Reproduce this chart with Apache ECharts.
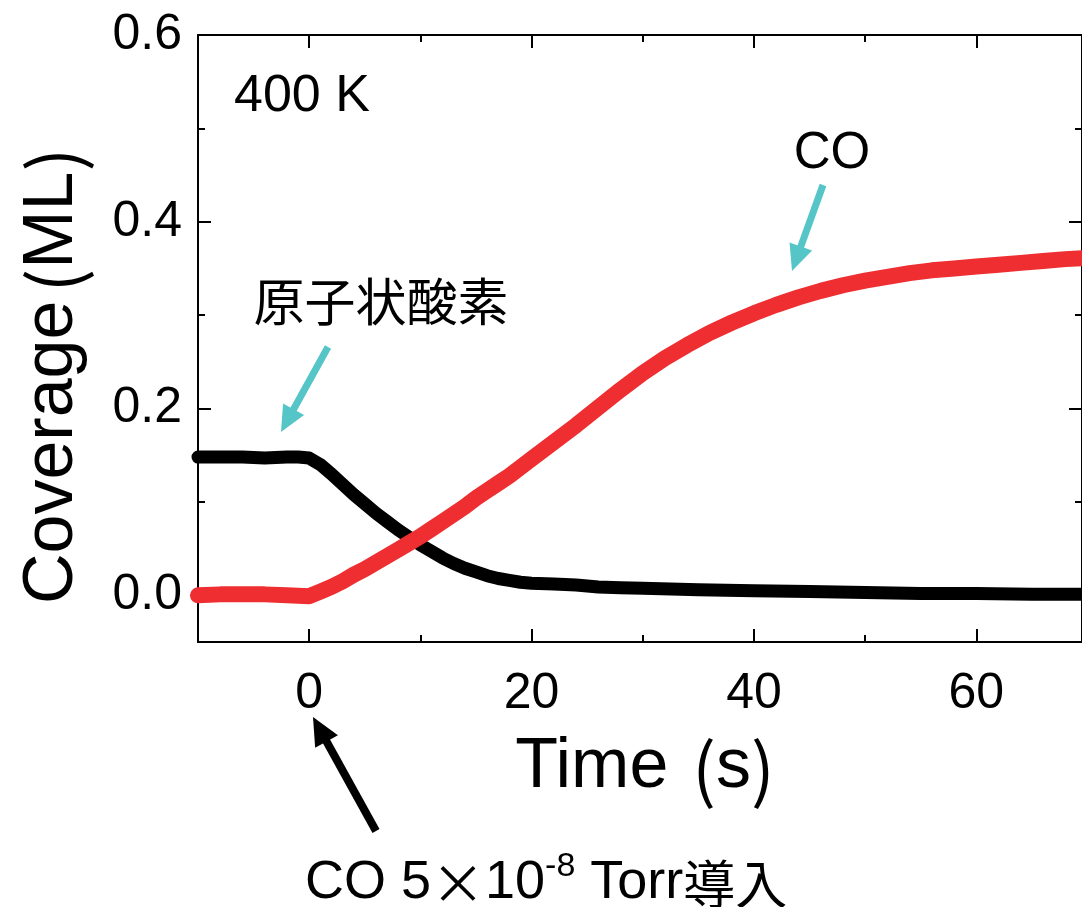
<!DOCTYPE html>
<html>
<head>
<meta charset="utf-8">
<script src="https://cdn.jsdelivr.net/npm/echarts@6/dist/echarts.min.js"></script>
<style>
html,body{margin:0;padding:0;background:#fff;}
#chart{width:1082px;height:907px;}
</style>
</head>
<body>
<div id="chart"></div>
<script>
// ---- data ----
const coTime = [-10,-8,-6,-4,-2,0,1,2,3,4,5,6,7,8,9,10,11,12,13,14,15,16,17,18,19,20,22,24,26,28,30,32,34,36,38,40,42,44,46,48,50,52,54,56,58,60,62,64,66,68,69.5];
const coCoverage = [0.000,0.001,0.001,0.001,0.000,-0.001,0.004,0.009,0.015,0.022,0.028,0.035,0.042,0.049,0.056,0.063,0.071,0.079,0.087,0.095,0.104,0.112,0.120,0.128,0.137,0.146,0.164,0.182,0.201,0.220,0.238,0.254,0.268,0.281,0.292,0.302,0.311,0.319,0.326,0.332,0.337,0.341,0.345,0.348,0.350,0.352,0.354,0.356,0.358,0.360,0.361];
const oTime = [-10,-8,-6,-4,-2,-1,0,1,2,3,4,5,6,7,8,9,10,11,12,13,14,15,16,17,18,19,20,22,24,26,28,30,35,40,45,50,55,60,65,69.5];
const oCoverage = [0.148,0.148,0.148,0.147,0.148,0.148,0.147,0.140,0.130,0.119,0.108,0.098,0.088,0.079,0.070,0.062,0.054,0.047,0.040,0.034,0.029,0.025,0.021,0.018,0.016,0.014,0.013,0.012,0.011,0.009,0.008,0.0075,0.006,0.005,0.004,0.003,0.002,0.002,0.001,0.001];
const xMajorTicks = [0, 20, 40, 60];
const xMinorTicks = [10, 30, 50];
const yMajorTicks = [0, 0.2, 0.4, 0.6];
const yMinorTicks = [0.1, 0.3, 0.5];
const xRange = [-10, 69.5];
const yRange = [-0.05, 0.6];

const LATIN = "'Liberation Sans', Arial, 'Noto Sans CJK JP', sans-serif";
const CJK = "'Noto Sans CJK JP', 'Noto Sans CJK SC', sans-serif";

const chart = echarts.init(document.getElementById('chart'), null, {renderer: 'canvas'});

function axisX(pos, ticks, len, showLine, showLabel) {
  return {
    type: 'value', position: pos, min: xRange[0], max: xRange[1],
    axisLine: {show: showLine, onZero: false, lineStyle: {color: '#000', width: 2}},
    axisTick: {show: true, inside: true, length: len, customValues: ticks, lineStyle: {color: '#000', width: 2}},
    axisLabel: showLabel ? {show: true, customValues: ticks, fontSize: 50, color: '#000', fontFamily: LATIN, margin: 27} : {show: false},
    splitLine: {show: false}
  };
}
function axisY(pos, ticks, len, showLine, showLabel) {
  return {
    type: 'value', position: pos, min: yRange[0], max: yRange[1],
    axisLine: {show: showLine, onZero: false, lineStyle: {color: '#000', width: 2}},
    axisTick: {show: true, inside: true, length: len, customValues: ticks, lineStyle: {color: '#000', width: 2}},
    axisLabel: showLabel ? {show: true, customValues: ticks, fontSize: 50, color: '#000', fontFamily: LATIN, margin: 16,
      formatter: v => Number(v).toFixed(1)} : {show: false},
    splitLine: {show: false}
  };
}

function arrow(x1, y1, x2, y2, color, w, headLen, headHalf) {
  const dx = x2 - x1, dy = y2 - y1, L = Math.sqrt(dx*dx + dy*dy);
  const ux = dx / L, uy = dy / L, px = -uy, py = ux;
  const bx = x2 - ux * headLen, by = y2 - uy * headLen;
  return [
    {type: 'line', shape: {x1: x1, y1: y1, x2: bx + ux*2, y2: by + uy*2}, style: {stroke: color, lineWidth: w}, z: 100},
    {type: 'polygon', shape: {points: [[x2, y2], [bx + px*headHalf, by + py*headHalf], [bx - px*headHalf, by - py*headHalf]]}, style: {fill: color}, z: 100}
  ];
}

const titleRich = {
  a: {fontSize: 70, fontFamily: LATIN, fill: '#000', color: '#000'},
  po: {fontSize: 70, fontFamily: CJK, fill: '#000', color: '#000', padding: [0, 0, 0, 8]},
  pc: {fontSize: 70, fontFamily: CJK, fill: '#000', color: '#000'}
};
const timeRich = {
  a: {fontSize: 70, fontFamily: LATIN, fill: '#000', color: '#000'},
  po: {fontSize: 70, fontFamily: CJK, fill: '#000', color: '#000', padding: [0, 0, 0, 24]},
  pc: {fontSize: 70, fontFamily: CJK, fill: '#000', color: '#000'}
};

const cyan = '#56C5C8';
const graphics = [].concat(
  arrow(328, 347, 281, 432, cyan, 7, 26, 12),
  arrow(823, 185, 792, 271, cyan, 7, 26, 12),
  arrow(376, 831, 313, 717, '#000', 8, 28, 13),
  [
    {type: 'text', x: 53, y: 376, rotation: Math.PI / 2, z: 100,
      style: {text: '{a|Coverage}{po|(}{a|ML}{pc|)}', rich: titleRich, align: 'center', verticalAlign: 'middle'}},
    {type: 'text', x: 645, y: 768, z: 100,
      style: {text: '{a|Time}{po|(}{a|s}{pc|)}', rich: timeRich, align: 'center', verticalAlign: 'middle'}},
    {type: 'text', x: 234, y: 97, z: 100,
      style: {text: '400 K', fontSize: 52, fontFamily: LATIN, fill: '#000', align: 'left', verticalAlign: 'middle'}},
    {type: 'text', x: 832, y: 154, z: 100,
      style: {text: 'CO', fontSize: 51, fontFamily: LATIN, fill: '#000', align: 'center', verticalAlign: 'middle'}},
    {type: 'text', x: 381, y: 302, z: 100,
      style: {text: '原子状酸素', fontSize: 51, fontFamily: CJK, fill: '#000', align: 'center', verticalAlign: 'middle'}},
    {type: 'text', x: 305, y: 880, z: 100,
      style: {text: '{a|CO 5}{x|×}{a|10}{s|-8}{a| Torr}{j|導入}', align: 'left', verticalAlign: 'middle',
        rich: {
          a: {fontSize: 54, fontFamily: LATIN, fill: '#000', color: '#000', lineHeight: 60, verticalAlign: 'bottom'},
          x: {fontSize: 54, fontFamily: CJK, fill: '#000', color: '#000', lineHeight: 60, verticalAlign: 'bottom'},
          j: {fontSize: 52, fontFamily: CJK, fill: '#000', color: '#000', lineHeight: 60, verticalAlign: 'bottom'},
          s: {fontSize: 34, fontFamily: LATIN, fill: '#000', color: '#000', lineHeight: 60, verticalAlign: 'top', padding: [0, 0, 20, 0]}
        }}}
  ]
);

const option = {
  backgroundColor: '#fff',
  animation: false,
  grid: {left: 198, top: 35, width: 895, height: 607, containLabel: false},
  xAxis: [
    axisX('bottom', xMajorTicks, 13, true, true),
    axisX('bottom', xMinorTicks, 7, false, false),
    axisX('top', xMajorTicks, 13, true, false),
    axisX('top', xMinorTicks, 7, false, false)
  ],
  yAxis: [
    axisY('left', yMajorTicks, 13, true, true),
    axisY('left', yMinorTicks, 7, false, false),
    axisY('right', yMajorTicks, 13, true, false),
    axisY('right', yMinorTicks, 7, false, false)
  ],
  series: [
    {name: '原子状酸素', type: 'line', xAxisIndex: 0, yAxisIndex: 0, showSymbol: false, smooth: false,
      data: oTime.map((t, i) => [t, oCoverage[i]]),
      lineStyle: {color: '#000', width: 13, cap: 'round', join: 'round'}, z: 3},
    {name: 'CO', type: 'line', xAxisIndex: 0, yAxisIndex: 0, showSymbol: false, smooth: false,
      data: coTime.map((t, i) => [t, coCoverage[i]]),
      lineStyle: {color: '#EE2E31', width: 16, cap: 'round', join: 'round'}, z: 4}
  ],
  graphic: graphics
};
chart.setOption(option);
</script>
</body>
</html>
